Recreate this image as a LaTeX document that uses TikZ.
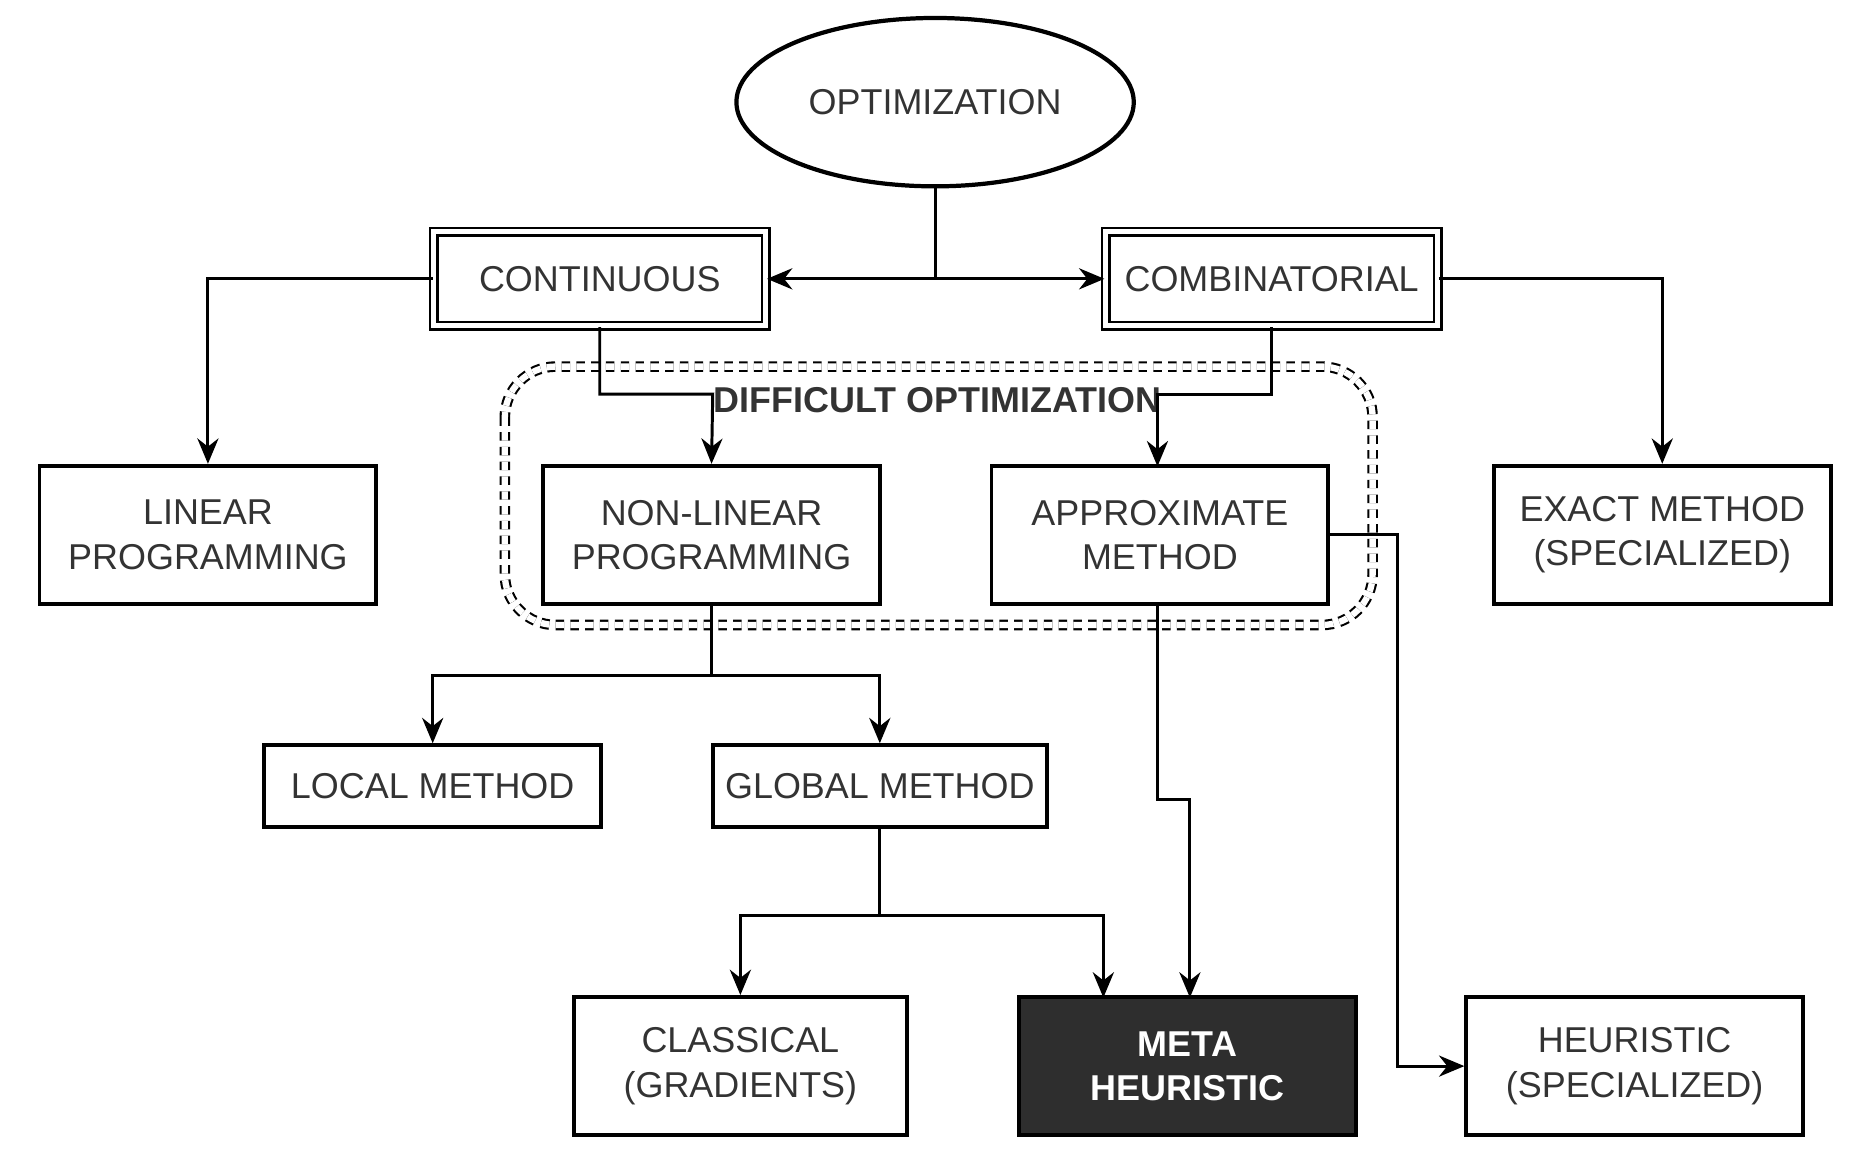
\documentclass[tikz,border=0pt]{standalone}
\usepackage{fontspec}
\setmainfont{Liberation Sans}
\usetikzlibrary{shapes.geometric,arrows.meta,positioning}
\tikzset
{
    box/.style  = {rectangle, draw=black, line width=0.9pt, align=center, minimum width=2.8cm, minimum height=1.15cm, text=black!80, font=\fontsize{8.5}{10.5}\selectfont, inner sep=1pt},
    dbox/.style = {box, double, double distance=1.2pt, line width=0.6pt, minimum width=2.76cm, minimum height=0.78cm},
    link/.style = {-{Stealth[length=6pt,width=5pt]}, line width=0.7pt}
}
\begin{document}
\begin{tikzpicture}[x=0.01cm, y=-0.01cm]
    \useasboundingbox (0,0) rectangle (1560,958);
    % frame for the difficult part
    \draw [double, double distance=1.5pt, dash pattern=on 2pt off 1.5pt, rounded corners=12pt, line width=0.5pt] (420,305) rectangle (1142,520);
    \node [font=\bfseries\fontsize{8.5}{10}\selectfont, text=black!80] (difficult) at (780,333) {DIFFICULT OPTIMIZATION};

    \node [ellipse, draw=black, line width=1pt, minimum width=2.8cm, minimum height=1.4cm, text=black!80, font=\fontsize{8.5}{10}\selectfont] (optim) at (778,85) {OPTIMIZATION};
    \node [dbox] (cont) at (499,232) {CONTINUOUS};
    \node [dbox] (comb) at (1058,232) {COMBINATORIAL};

    \node [box] (linear) at (173,445) {LINEAR\\PROGRAMMING};
    \node [box] (nonlin) at (592,445) {NON-LINEAR\\PROGRAMMING};
    \node [box] (approx) at (965,445) {APPROXIMATE\\METHOD};
    \node [box] (exact) at (1383,445) {EXACT METHOD\\(SPECIALIZED)};

    \node [box, minimum height=0.68cm] (local) at (360,654) {LOCAL METHOD};
    \node [box, minimum width=2.78cm, minimum height=0.68cm] (global) at (732,654) {GLOBAL METHOD};

    \node [box, minimum width=2.77cm] (classic) at (616,887) {CLASSICAL\\(GRADIENTS)};
    \node [box, fill=black!82, text=white, font=\bfseries\fontsize{8.5}{10.5}\selectfont] (meta) at (988,887) {META\\HEURISTIC};
    \node [box] (heur) at (1360,887) {HEURISTIC\\(SPECIALIZED)};

    % connectors
    \coordinate (split) at (778,232);
    \draw [line width=0.7pt] (optim.south) -- (split);
    \draw [link] (split) -- (cont.east);
    \draw [link] (split) -- (comb.west);
    \draw [link] (cont.west) -| (linear.north);
    \draw [link] (cont.south) |- (593,328) -- (nonlin.north);
    \draw [link] (comb.south) |- (963,328) -- (963,388);
    \draw [link] (comb.east) -| (exact.north);
    \draw [link] (nonlin.south) |- (360,562) -- (local.north);
    \draw [link] (nonlin.south) |- (732,562) -- (global.north);
    \draw [link] (global.south) |- (616,762) -- (classic.north);
    \draw [link] (global.south) |- (918,762) -- (918,830);
    \draw [link] (963,503) |- (990,665) -- (990,830);
    \draw [link] (approx.east) -| (1163,887) -- (heur.west);
\end{tikzpicture}
\end{document}
